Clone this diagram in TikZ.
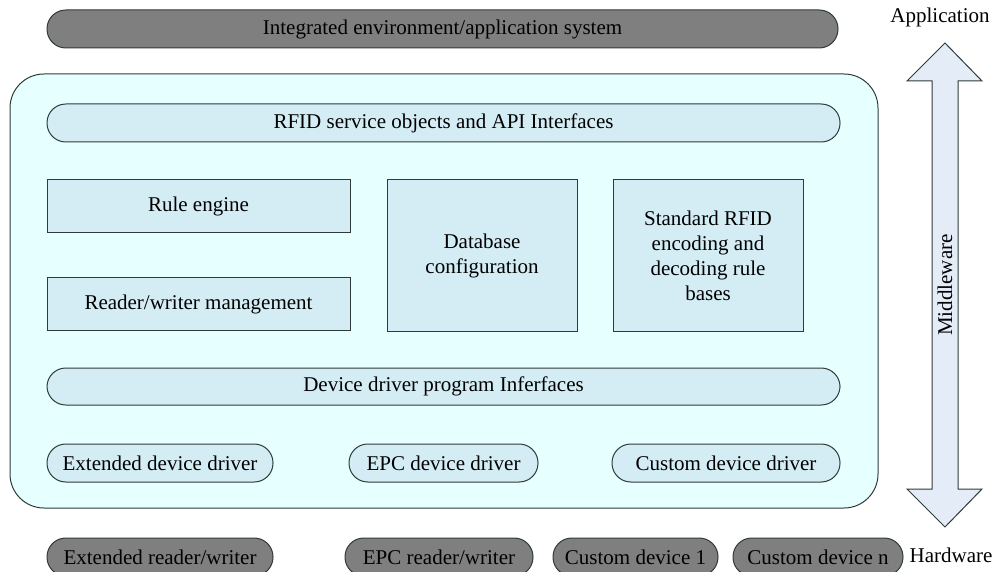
\documentclass[tikz,border=0pt]{standalone}
\usepackage{fontspec}
\setmainfont{Liberation Serif}
\usetikzlibrary{positioning}

\definecolor{hwgray}{HTML}{7F7F7F}
\definecolor{mwcyan}{HTML}{E6FFFF}
\definecolor{boxblue}{HTML}{D4EDF5}
\definecolor{arrowblue}{HTML}{E4ECF7}
\definecolor{edgegray}{HTML}{2F3B3B}

\begin{document}
\begin{tikzpicture}[x=0.5pt, y=-0.5pt,
  every node/.style={font=\fontsize{10.5}{12.5}\selectfont, inner sep=0pt},
  pill/.style={draw=edgegray, line width=0.5pt, rounded corners=9.4pt, minimum height=19pt},
  grey pill/.style={pill, fill=hwgray},
  blue pill/.style={pill, fill=boxblue},
  blue box/.style={draw=edgegray, line width=0.5pt, fill=boxblue, align=center}]

\clip (0,0) rectangle (995,572);

% middleware container
\node [draw=edgegray, line width=0.5pt, fill=mwcyan, rounded corners=17pt,
       minimum width=434pt, minimum height=217pt] (mw) at (444,291) {};

% application layer
\node [grey pill, minimum width=395.5pt] (app) at (442.5,29) {Integrated environment/application system};

% inside the middleware
\node [blue pill, minimum width=396.5pt] (api) at (443.5,123) {RFID service objects and API Interfaces};
\node [blue box, minimum width=151.5pt, minimum height=26.5pt] (rule) at (198.5,206.5) {Rule engine};
\node [blue box, minimum width=151.5pt, minimum height=26.5pt] (rwm) at (198.5,304) {Reader/writer management};
\node [blue box, minimum width=95pt, minimum height=75.5pt] (db) at (482,255.5) {Database\\configuration};
\node [blue box, minimum width=95pt, minimum height=75.5pt] (std) at (708,255.5) {Standard RFID\\encoding and\\decoding rule\\bases};
\node [blue pill, minimum width=396.5pt, minimum height=18.5pt] (ddi) at (443.5,386.5) {Device driver program Inferfaces};
\node [blue pill, minimum width=113pt] (extdrv) at (160,463) {Extended device driver};
\node [blue pill, minimum width=94.5pt] (epcdrv) at (443.5,463) {EPC device driver};
\node [blue pill, minimum width=114pt] (cusdrv) at (726,463) {Custom device driver};

% hardware layer
\node [grey pill, minimum width=113pt] (extrw) at (160,557) {Extended reader/writer};
\node [grey pill, minimum width=94pt] (epcrw) at (439,557) {EPC reader/writer};
\node [grey pill, minimum width=82.5pt] (cdev1) at (635.5,557) {Custom device 1};
\node [grey pill, minimum width=85pt] (cdevn) at (818,557) {Custom device n};

% layer arrow
\filldraw [draw=edgegray, line width=0.5pt, fill=arrowblue]
  (945,43) -- (982,81) -- (958,81) -- (958,489) -- (982,489) -- (945,527)
  -- (907,489) -- (932,489) -- (932,81) -- (907,81) -- cycle;

\node (mwlabel) at (945,285) [rotate=90] {Middleware};
\node (applabel) at (940,17) {Application};
\node (hwlabel) at (951,555) {Hardware};

\end{tikzpicture}
\end{document}
